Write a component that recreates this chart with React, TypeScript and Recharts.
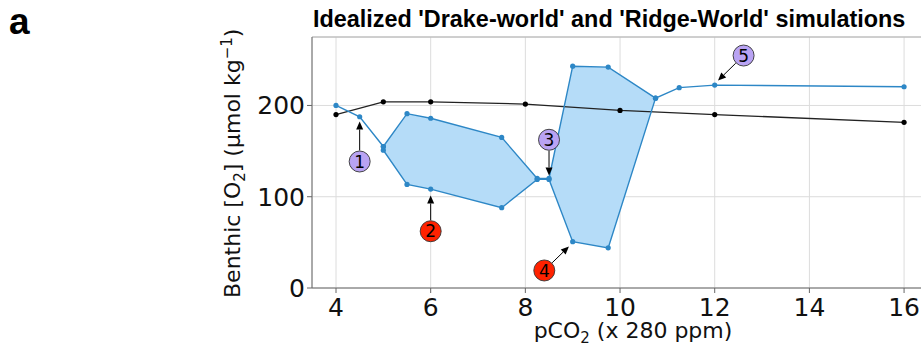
import React from 'react';
import {
  ComposedChart,
  Line,
  Area,
  XAxis,
  YAxis,
  CartesianGrid,
  ReferenceLine,
  ReferenceDot,
} from 'recharts';

// ---- data ----
const xTicks = [4, 6, 8, 10, 12, 14, 16];
const yTicks = [0, 100, 200];

// 'Drake-world' (black)
const drakeX = [4, 5, 6, 8, 10, 12, 16];
const drakeO2 = [190, 204, 204, 201.5, 194.5, 190, 181.5];

// 'Ridge-World' (blue) – forward branch
const ridgeUpX = [4, 4.5, 5, 5.5, 6, 7.5, 8.25, 8.5, 9, 9.75, 10.75, 11.25, 12, 16];
const ridgeUpO2 = [200, 187.6, 155, 191, 186, 165, 120, 120, 243, 242, 208, 219.5, 222.3, 220.5];

// 'Ridge-World' (blue) – return branch
const ridgeDownX = [5, 5, 5.5, 6, 7.5, 8.25, 8.5, 9, 9.75, 10.75];
const ridgeDownO2 = [155, 151, 113.5, 108.4, 88, 119, 119, 50.7, 44, 208];

// hysteresis envelope (filled)
const hystX = [5, 5.5, 6, 7.5, 8.25, 8.5, 9, 9.75, 10.75];
const hystLow = [151, 113.5, 108.4, 88, 119, 119, 50.7, 44, 208];
const hystHigh = [155, 191, 186, 165, 120, 120, 243, 242, 208];

// numbered annotations (label position and arrow tip, in data units)
const annoLabels = ['1', '2', '3', '4', '5'];
const annoKind = ['stable', 'unstable', 'stable', 'unstable', 'stable'];
const annoTextX = [4.5, 6, 8.5, 8.4, 12.61];
const annoTextY = [138.6, 62.2, 162.4, 19.2, 254.7];
const annoTipX = [4.5, 6, 8.5, 8.92, 12.07];
const annoTipY = [182.4, 101.3, 123.3, 45.5, 227.3];

// ---- derived tables ----
const drakeData = drakeX.map((x, i) => ({ x, y: drakeO2[i] }));
const upData = ridgeUpX.map((x, i) => ({ x, y: ridgeUpO2[i] }));
const downData = ridgeDownX.map((x, i) => ({ x, y: ridgeDownO2[i] }));
const hystData = hystX.map((x, i) => ({ x, range: [hystLow[i], hystHigh[i]] }));

const X_DOMAIN: [number, number] = [3.493, 16.59];
const Y_DOMAIN: [number, number] = [0, 275];

const BLUE = '#2d87c6';
const FILL = '#b5dcf8';
const CIRCLE_R = 10.5;
const kindColor: Record<string, string> = { stable: '#b9a3f3', unstable: '#ff2200' };

const arrowShape = (props: any) => {
  const { x1, y1, x2, y2 } = props;
  const dx = x2 - x1;
  const dy = y2 - y1;
  const len = Math.hypot(dx, dy) || 1;
  const ux = dx / len;
  const uy = dy / len;
  const sx = x1 + ux * (CIRCLE_R + 0.5);
  const sy = y1 + uy * (CIRCLE_R + 0.5);
  const hl = 8;
  const hw = 3.5;
  const bx = x2 - ux * hl;
  const by = y2 - uy * hl;
  const px = -uy;
  const py = ux;
  return (
    <g>
      <line x1={sx} y1={sy} x2={bx} y2={by} stroke="#000" strokeWidth={1} />
      <polygon
        points={`${x2},${y2} ${bx + px * hw},${by + py * hw} ${bx - px * hw},${by - py * hw}`}
        fill="#000"
      />
    </g>
  );
};

const circleShape = (label: string, color: string) => (props: any) => {
  const { cx, cy } = props;
  return (
    <g>
      <circle cx={cx} cy={cy} r={CIRCLE_R} fill={color} stroke="#333" strokeWidth={0.9} />
      <text
        x={cx}
        y={cy}
        dy="0.36em"
        textAnchor="middle"
        fontSize={17}
        fontFamily="DejaVu Sans"
        fill="#000"
      >
        {label}
      </text>
    </g>
  );
};

const tickStyle = { fontSize: 25, fontFamily: 'DejaVu Sans', fill: '#111' };

export default function App() {
  return (
    <div
      style={{
        position: 'absolute',
        left: 0,
        top: 0,
        width: 921,
        height: 348,
        overflow: 'hidden',
        background: '#fff',
      }}
    >
      <ComposedChart
        width={940}
        height={348}
        margin={{ top: 37, right: 8, bottom: 0, left: 0 }}
      >
        <CartesianGrid stroke="#dcdcdc" strokeWidth={1} />
        <XAxis
          type="number"
          dataKey="x"
          domain={X_DOMAIN}
          ticks={xTicks}
          allowDataOverflow
          height={60}
          tick={tickStyle}
          tickSize={5}
          tickMargin={5}
          stroke="#666"
          tickLine={{ stroke: '#666' }}
        />
        <YAxis
          type="number"
          domain={Y_DOMAIN}
          ticks={yTicks}
          allowDataOverflow
          width={312}
          tick={tickStyle}
          tickSize={5}
          tickMargin={2}
          stroke="#666"
          tickLine={{ stroke: '#666' }}
        />
        <ReferenceLine y={Y_DOMAIN[1]} stroke="#b0b0b0" strokeWidth={1} />
        <Area
          data={hystData}
          dataKey="range"
          type="linear"
          stroke="none"
          fill={FILL}
          fillOpacity={1}
          isAnimationActive={false}
        />
        <Line
          data={drakeData}
          dataKey="y"
          type="linear"
          stroke="#222"
          strokeWidth={1.3}
          dot={{ r: 2.6, fill: '#000', stroke: 'none' }}
          isAnimationActive={false}
        />
        <Line
          data={downData}
          dataKey="y"
          type="linear"
          stroke={BLUE}
          strokeWidth={1.4}
          dot={{ r: 2.6, fill: BLUE, stroke: 'none' }}
          isAnimationActive={false}
        />
        <Line
          data={upData}
          dataKey="y"
          type="linear"
          stroke={BLUE}
          strokeWidth={1.4}
          dot={{ r: 2.6, fill: BLUE, stroke: 'none' }}
          isAnimationActive={false}
        />
        {annoLabels.map((lab, i) => (
          <ReferenceLine
            key={'arr' + lab}
            segment={[
              { x: annoTextX[i], y: annoTextY[i] },
              { x: annoTipX[i], y: annoTipY[i] },
            ]}
            shape={arrowShape}
          />
        ))}
        {annoLabels.map((lab, i) => (
          <ReferenceDot
            key={'dot' + lab}
            x={annoTextX[i]}
            y={annoTextY[i]}
            r={CIRCLE_R}
            shape={circleShape(lab, kindColor[annoKind[i]])}
          />
        ))}
      </ComposedChart>
      <svg
        width={921}
        height={348}
        style={{ position: 'absolute', left: 0, top: 0, pointerEvents: 'none' }}
      >
        <text x={9} y={33.5} fontFamily="Liberation Sans, Arial" fontWeight="bold" fontSize={37} fill="#000">
          a
        </text>
        <text
          x={313}
          y={27}
          fontFamily="Liberation Sans, Arial"
          fontWeight="bold"
          fontSize={23.4}
          fill="#000"
        >
          Idealized 'Drake-world' and 'Ridge-World' simulations
        </text>
        <text x={633} y={338} textAnchor="middle" fontFamily="DejaVu Sans" fontSize={22} fill="#111">
          pCO<tspan dy={5} fontSize={15}>2</tspan>
          <tspan dy={-5}> (x 280 ppm)</tspan>
        </text>
        <text
          transform="translate(240,298) rotate(-90)"
          x={0}
          y={0}
          textAnchor="start"
          fontFamily="DejaVu Sans"
          fontSize={22}
          fill="#111"
        >
          Benthic [O<tspan dy={5} fontSize={15}>2</tspan>
          <tspan dy={-5}>] (μmol kg</tspan>
          <tspan dy={-8} fontSize={15}>−1</tspan>
          <tspan dy={8}>)</tspan>
        </text>
      </svg>
    </div>
  );
}
